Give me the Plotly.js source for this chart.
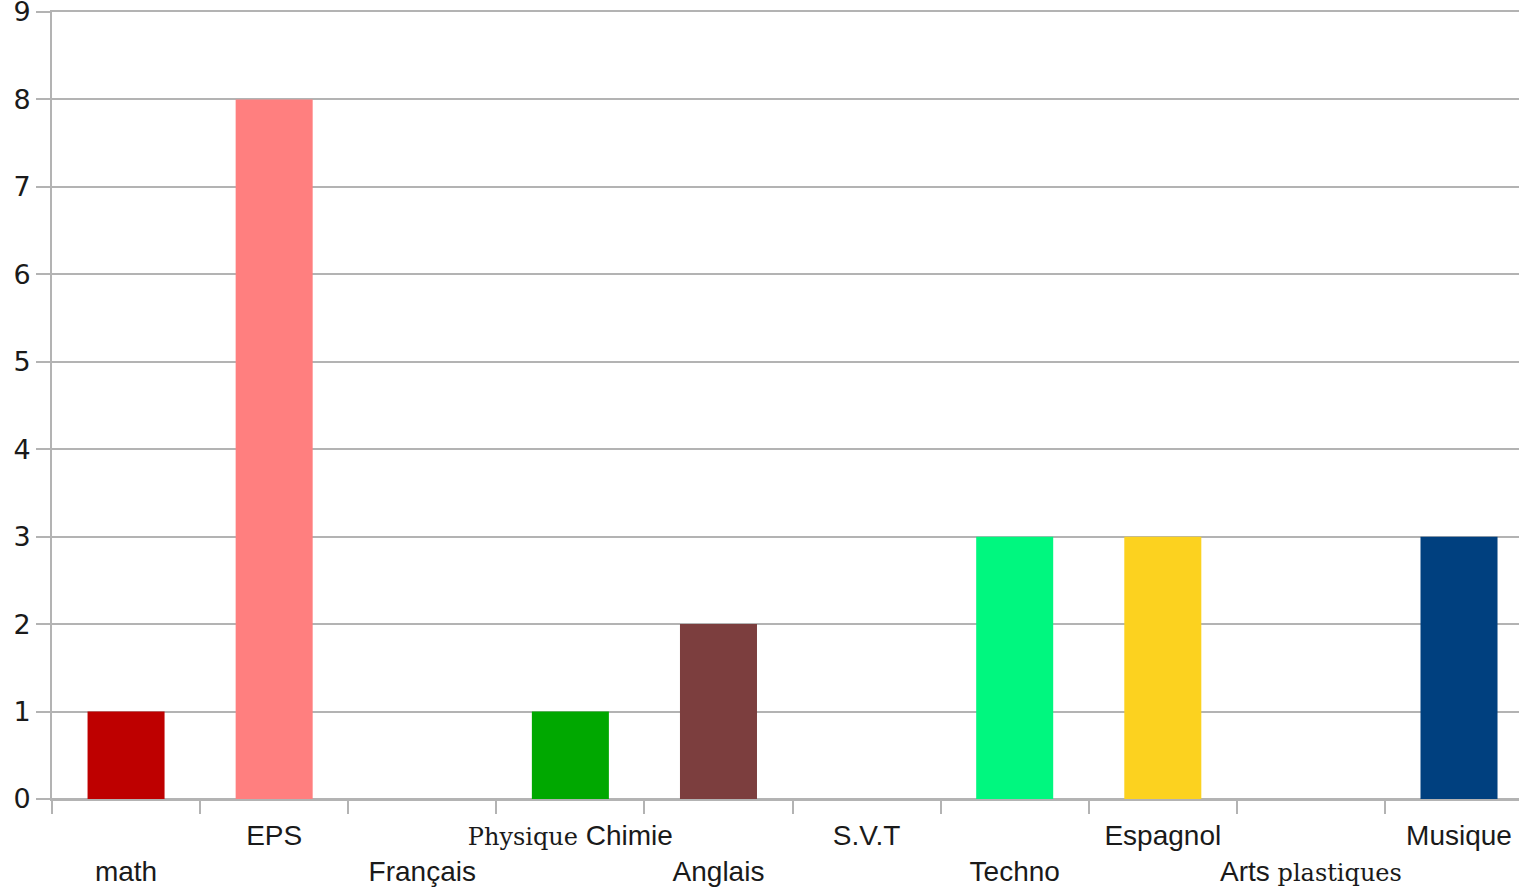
<!DOCTYPE html>
<html>
<head>
<meta charset="utf-8">
<script src="https://cdn.plot.ly/plotly-3.0.1.min.js"></script>
<style>html,body{margin:0;padding:0;background:#fff;}#chart{width:1519px;height:887px;}</style>
</head>
<body>
<div id="chart"></div>
<script>
const categories = ["math", "EPS", "Français", "Physique Chimie", "Anglais", "S.V.T", "Techno", "Espagnol", "Arts plastiques", "Musique"];
const values = [1, 8, 0, 1, 2, 0, 3, 3, 0, 3];
const colorsBySubject = {
  "math": "#be0000", "EPS": "#ff7f7f", "Français": "#ffffff", "Physique Chimie": "#00a800",
  "Anglais": "#7c3e3e", "S.V.T": "#ffffff", "Techno": "#00f77f", "Espagnol": "#fcd21f",
  "Arts plastiques": "#ffffff", "Musique": "#00407f"
};
const serifWords = ["Physique", "plastiques"];

const ticktext = categories.map((c, i) => {
  const words = c.split(" ").map(w => serifWords.includes(w)
    ? '<span style="font-family:\'DejaVu Serif\', serif;font-size:24px">' + w + '</span>'
    : w);
  const t = words.join(" ");
  return (i % 2 === 0) ? "<br>" + t : t;
});

const trace = {
  type: "bar",
  x: categories,
  y: values,
  width: 0.52,
  marker: { color: categories.map(c => colorsBySubject[c]), line: { width: 0 } },
  hoverinfo: "x+y"
};

const grid = "#b3b3b3";
const layout = {
  width: 1519, height: 887,
  margin: { l: 52, r: 0, t: 12, b: 88, pad: 0 },
  paper_bgcolor: "#ffffff", plot_bgcolor: "#ffffff",
  showlegend: false,
  font: { family: "'Liberation Sans', Arial, sans-serif", color: "#1a1a1a" },
  xaxis: {
    type: "category",
    range: [-0.5, 9.405],
    tickmode: "array", tickvals: categories, ticktext: ticktext,
    tickson: "boundaries",
    tickangle: 0,
    ticks: "outside", ticklen: 13, tickwidth: 2, tickcolor: grid,
    ticklabelstandoff: 10,
    ticklabeloverflow: "allow",
    showgrid: false, zeroline: false,
    showline: true, mirror: true, linecolor: grid, linewidth: 2,
    tickfont: { size: 28, color: "#1a1a1a" },
    fixedrange: true
  },
  yaxis: {
    range: [0, 9],
    tickmode: "linear", tick0: 0, dtick: 1,
    ticks: "outside", ticklen: 14, tickwidth: 2, tickcolor: grid,
    ticklabeloverflow: "allow",
    showgrid: true, gridcolor: grid, gridwidth: 2,
    zeroline: true, zerolinecolor: grid, zerolinewidth: 2,
    showline: true, linecolor: grid, linewidth: 2,
    tickfont: { size: 27, color: "#1a1a1a", family: "'DejaVu Sans', sans-serif" },
    fixedrange: true
  },
  bargap: 0.48
};

Plotly.newPlot("chart", [trace], layout, { displayModeBar: false, staticPlot: true });
</script>
</body>
</html>
